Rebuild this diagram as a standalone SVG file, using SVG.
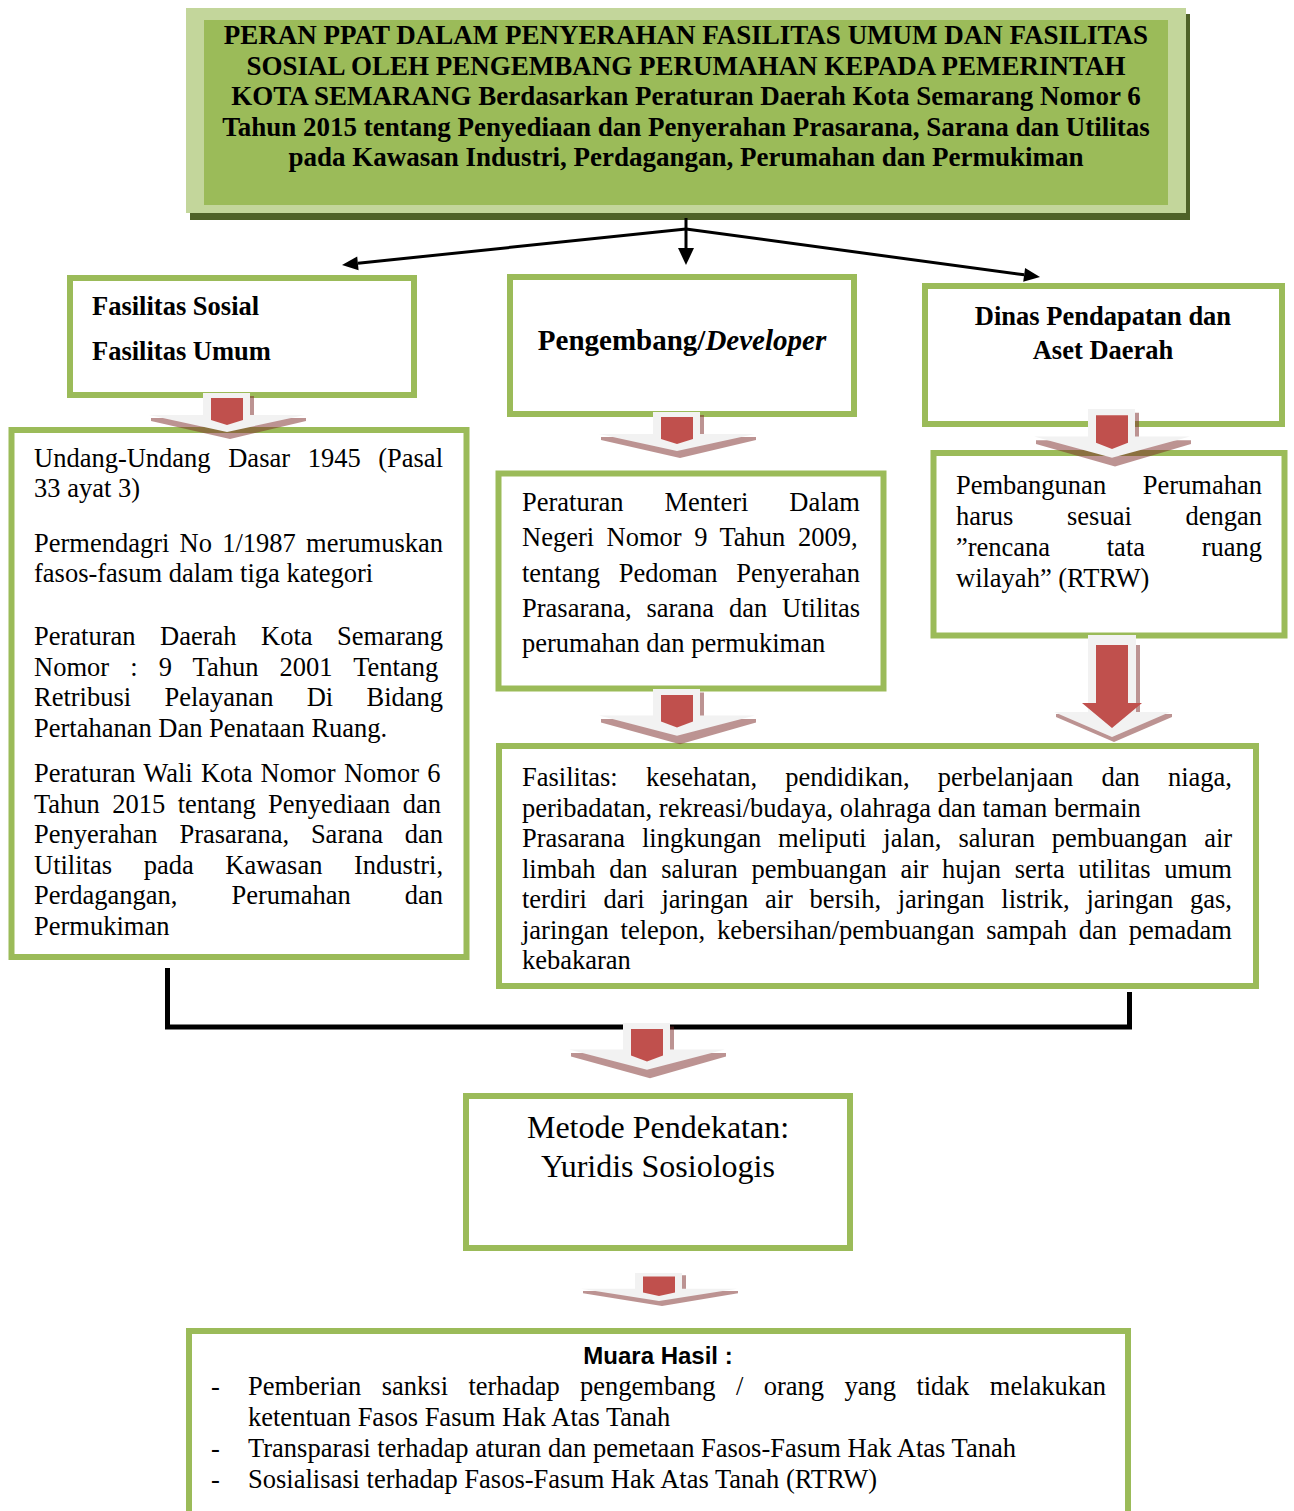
<svg xmlns="http://www.w3.org/2000/svg" width="1294" height="1511" viewBox="0 0 1294 1511">
<defs>
<style>
.box{fill:#fff;stroke:#9bbb59;stroke-width:6}
.t{font-family:"Liberation Serif","Times New Roman",serif;font-size:26.5px;fill:#000}
.bd{font-weight:bold}
.mid{text-anchor:middle}
.ttl{font-size:27px}
.ln{stroke:#000;fill:none}
.ah{fill:#000}
.sh{fill:#7a2826;fill-opacity:.5}
.gr{fill:#f2f2f2}
.rd{fill:#c0504d}
</style>
<g id="ba">
<path class="sh" d="M23,3H27V25H79V28L3,46L-76,28V25H23Z"/>
<path class="gr" d="M-24,0H23V22H78L0,39L-78,22H-24Z"/>
<polygon class="rd" points="-16,5 16,5 16,27 0,32 -16,27"/>
</g>
<g id="bab">
<path class="sh" d="M24,10H28V79H60V82L2,107L-56,82V79H24Z"/>
<path class="gr" d="M-24,0H24V77H58L0,102L-58,77H-24Z"/>
<path class="rd" d="M-16,10H16V68H30L0,93L-30,68H-16Z"/>
</g>
</defs>
<rect width="1294" height="1511" fill="#fff"/>

<g id="title">
<rect x="190" y="14" width="1000" height="206" fill="#4f6228"/>
<rect x="186" y="8" width="1000" height="205" fill="#c3d69b"/>
<rect x="204" y="20" width="964" height="185" fill="#9bbb59"/>
<text class="t bd mid ttl" x="686" y="44">PERAN PPAT DALAM PENYERAHAN FASILITAS UMUM DAN FASILITAS</text>
<text class="t bd mid ttl" x="686" y="74.5">SOSIAL OLEH PENGEMBANG PERUMAHAN KEPADA PEMERINTAH</text>
<text class="t bd mid ttl" x="686" y="105">KOTA SEMARANG Berdasarkan Peraturan Daerah Kota Semarang Nomor 6</text>
<text class="t bd mid ttl" x="686" y="135.5">Tahun 2015 tentang Penyediaan dan Penyerahan Prasarana, Sarana dan Utilitas</text>
<text class="t bd mid ttl" x="686" y="166">pada Kawasan Industri, Perdagangan, Perumahan dan Permukiman</text>
</g>

<g id="fasos">
<rect class="box" x="70" y="278" width="344" height="117"/>
<text class="t bd" x="92" y="315">Fasilitas Sosial</text>
<text class="t bd" x="92" y="360">Fasilitas Umum</text>
</g>

<g id="developer">
<rect class="box" x="510" y="277" width="344" height="137"/>
<text class="t bd mid" x="682" y="350" style="font-size:29px">Pengembang/<tspan font-style="italic">Developer</tspan></text>
</g>

<g id="dinas">
<rect class="box" x="925" y="286" width="357" height="138"/>
<text class="t bd mid" x="1103" y="325">Dinas Pendapatan dan</text>
<text class="t bd mid" x="1103" y="359">Aset Daerah</text>
</g>

<g id="dasar-hukum">
<rect class="box" x="11.5" y="430" width="455" height="527"/>
<text class="t" x="34" y="467" word-spacing="10.98">Undang-Undang Dasar 1945 (Pasal</text>
<text class="t" x="34" y="497">33 ayat 3)</text>
<text class="t" x="34" y="552" word-spacing="3.6">Permendagri No 1/1987 merumuskan</text>
<text class="t" x="34" y="582">fasos-fasum dalam tiga kategori</text>
<text class="t" x="34" y="645" word-spacing="17.9">Peraturan Daerah Kota Semarang</text>
<text class="t" x="34" y="675.5" word-spacing="14.5">Nomor : 9 Tahun 2001 Tentang</text>
<text class="t" x="34" y="706" word-spacing="26.7">Retribusi Pelayanan Di Bidang</text>
<text class="t" x="34" y="736.5">Pertahanan Dan Penataan Ruang.</text>
<text class="t" x="34" y="782" word-spacing="1.6">Peraturan Wali Kota Nomor Nomor 6</text>
<text class="t" x="34" y="812.5" word-spacing="5.8">Tahun 2015 tentang Penyediaan dan</text>
<text class="t" x="34" y="843" word-spacing="15.2">Penyerahan Prasarana, Sarana dan</text>
<text class="t" x="34" y="873.5" word-spacing="25">Utilitas pada Kawasan Industri,</text>
<text class="t" x="34" y="904" word-spacing="47.4">Perdagangan, Perumahan dan</text>
<text class="t" x="34" y="934.5">Permukiman</text>
</g>

<g id="permendagri">
<rect class="box" x="498.5" y="473.5" width="385" height="215"/>
<text class="t" x="522" y="511" word-spacing="34.3">Peraturan Menteri Dalam</text>
<text class="t" x="522" y="546" word-spacing="5.9">Negeri Nomor 9 Tahun 2009,</text>
<text class="t" x="522" y="582" word-spacing="12.2">tentang Pedoman Penyerahan</text>
<text class="t" x="522" y="617" word-spacing="8.2">Prasarana, sarana dan Utilitas</text>
<text class="t" x="522" y="652">perumahan dan permukiman</text>
</g>

<g id="rtrw">
<rect class="box" x="933.5" y="453" width="351" height="182.5"/>
<text class="t" x="956" y="494" word-spacing="30">Pembangunan Perumahan</text>
<text class="t" x="956" y="525" word-spacing="47">harus sesuai dengan</text>
<text class="t" x="956" y="556" word-spacing="50">”rencana tata ruang</text>
<text class="t" x="956" y="586.5">wilayah” (RTRW)</text>
</g>

<g id="fasilitas">
<rect class="box" x="499" y="746" width="757" height="240"/>
<text class="t" x="522" y="786" word-spacing="21.6">Fasilitas: kesehatan, pendidikan, perbelanjaan dan niaga,</text>
<text class="t" x="522" y="816.5">peribadatan, rekreasi/budaya, olahraga dan taman bermain</text>
<text class="t" x="522" y="847" word-spacing="10.3">Prasarana lingkungan meliputi jalan, saluran pembuangan air</text>
<text class="t" x="522" y="877.5" word-spacing="7.05">limbah dan saluran pembuangan air hujan serta utilitas umum</text>
<text class="t" x="522" y="908" word-spacing="10.1">terdiri dari jaringan air bersih, jaringan listrik, jaringan gas,</text>
<text class="t" x="522" y="938.5" word-spacing="5.1">jaringan telepon, kebersihan/pembuangan sampah dan pemadam</text>
<text class="t" x="522" y="969">kebakaran</text>
</g>

<g id="metode">
<rect class="box" x="466" y="1096" width="384" height="152"/>
<text class="t mid" x="658" y="1138" style="font-size:32px">Metode Pendekatan:</text>
<text class="t mid" x="658" y="1177" style="font-size:32px">Yuridis Sosiologis</text>
</g>

<g id="muara">
<rect class="box" x="189" y="1331" width="939" height="200"/>
<text class="mid" x="658" y="1364" style="font-family:'Liberation Sans',Arial,sans-serif;font-size:24px;font-weight:bold">Muara Hasil :</text>
<text class="t" x="211" y="1395">-</text>
<text class="t" x="248" y="1395" word-spacing="13.8">Pemberian sanksi terhadap pengembang / orang yang tidak melakukan</text>
<text class="t" x="248" y="1426">ketentuan Fasos Fasum Hak Atas Tanah</text>
<text class="t" x="211" y="1457">-</text>
<text class="t" x="248" y="1457">Transparasi terhadap aturan dan pemetaan Fasos-Fasum Hak Atas Tanah</text>
<text class="t" x="211" y="1488">-</text>
<text class="t" x="248" y="1488">Sosialisasi terhadap Fasos-Fasum Hak Atas Tanah (RTRW)</text>
</g>

<g id="connectors">
<path class="ln" stroke-width="3" d="M686,218V249"/>
<polygon class="ah" points="678,248 694,248 686,265"/>
<line class="ln" stroke-width="3" x1="686" y1="229" x2="358" y2="263.3"/>
<polygon class="ah" points="342,265 357.2,256.4 358.6,270.3"/>
<line class="ln" stroke-width="3" x1="686" y1="229" x2="1024.1" y2="274.85"/>
<polygon class="ah" points="1040,277 1023.2,281.8 1025.1,267.9"/>
<path class="ln" stroke-width="5" d="M167.5,968V1027H1129.5V992"/>
<use href="#ba" transform="translate(227,393)"/>
<use href="#ba" transform="translate(677,412)"/>
<use href="#ba" transform="translate(1112,409) scale(1,1.25)"/>
<use href="#ba" transform="translate(677,689) scale(1,1.2)"/>
<use href="#bab" transform="translate(1112,635)"/>
<use href="#ba" transform="translate(647,1023) scale(1,1.2)"/>
<use href="#ba" transform="translate(659,1273) scale(1,0.72)"/>
</g>
</svg>
